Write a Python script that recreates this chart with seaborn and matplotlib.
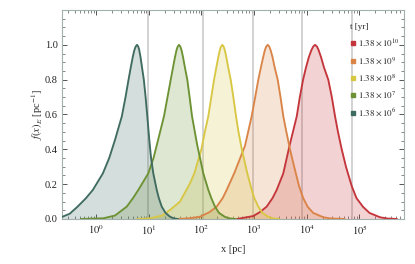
import numpy as np
import pandas as pd
import matplotlib
matplotlib.use("Agg")
import matplotlib.pyplot as plt
from matplotlib.lines import Line2D
from matplotlib.ticker import FixedLocator, LogLocator, MultipleLocator, NullFormatter
import seaborn as sns

# ---- data (x given as log10 of x [pc]) ----
labels = [r"$1.38\times10^{10}$", r"$1.38\times10^{9}$", r"$1.38\times10^{8}$",
          r"$1.38\times10^{7}$", r"$1.38\times10^{6}$"]
colors = ["#C4363B", "#DA8448", "#D8C744", "#6C9234", "#3F6B60"]

logx_red = [2.676, 2.985, 3.112, 3.239, 3.350, 3.429, 3.554, 3.672, 3.810, 3.868,
            3.930, 3.985, 4.040, 4.088, 4.122, 4.156,
            4.194, 4.224, 4.270, 4.327, 4.408, 4.475, 4.536, 4.592, 4.663, 4.744,
            4.852, 4.943, 5.067, 5.190, 5.389, 5.522, 5.712]
f_red = [0, 0.017, 0.04, 0.071, 0.12, 0.167, 0.262, 0.42, 0.59, 0.70,
         0.80, 0.87, 0.93, 0.97, 0.99, 1.0,
         0.99, 0.97, 0.93, 0.87, 0.80, 0.70, 0.59, 0.50, 0.40, 0.30,
         0.19, 0.12, 0.07, 0.035, 0.01, 0.003, 0]

logx_orange = [1.550, 1.778, 1.973, 2.157, 2.290, 2.404, 2.480, 2.622, 2.827, 2.954,
               3.021, 3.080, 3.129, 3.173, 3.205, 3.230, 3.258,
               3.288, 3.313, 3.349, 3.391, 3.448, 3.501, 3.554, 3.613, 3.681, 3.761,
               3.852, 3.932, 4.017, 4.121, 4.313, 4.453, 4.719]
f_orange = [0, 0.004, 0.013, 0.04, 0.071, 0.12, 0.167, 0.262, 0.42, 0.59,
            0.70, 0.80, 0.87, 0.93, 0.97, 0.99, 1.0,
            0.99, 0.97, 0.93, 0.87, 0.80, 0.70, 0.59, 0.50, 0.40, 0.30,
            0.19, 0.12, 0.07, 0.035, 0.01, 0.003, 0]

logx_yellow = [0.784, 1.025, 1.258, 1.405, 1.594, 1.784, 1.866, 1.999, 2.065, 2.131,
               2.188, 2.240, 2.283, 2.321, 2.350, 2.372, 2.397,
               2.422, 2.444, 2.473, 2.509, 2.556, 2.606, 2.657, 2.704, 2.767, 2.871,
               2.955, 3.004, 3.080, 3.156, 3.270, 3.365, 3.479]
f_yellow = [0, 0.004, 0.02, 0.052, 0.10, 0.205, 0.262, 0.40, 0.50, 0.59,
            0.70, 0.80, 0.87, 0.93, 0.97, 0.99, 1.0,
            0.99, 0.97, 0.93, 0.87, 0.80, 0.70, 0.59, 0.50, 0.40, 0.262,
            0.167, 0.12, 0.071, 0.035, 0.012, 0.003, 0]

logx_green = [-0.285, 0.139, 0.361, 0.583, 0.702, 0.803, 0.992, 1.091, 1.158, 1.290,
              1.357, 1.418, 1.461, 1.499, 1.528, 1.550, 1.575,
              1.600, 1.622, 1.651, 1.687, 1.732, 1.776, 1.822, 1.917, 2.036, 2.131,
              2.188, 2.258, 2.334, 2.448, 2.543, 2.657]
f_green = [0, 0.004, 0.02, 0.071, 0.12, 0.167, 0.262, 0.35, 0.43, 0.59,
           0.70, 0.80, 0.87, 0.93, 0.97, 0.99, 1.0,
           0.99, 0.97, 0.93, 0.87, 0.80, 0.70, 0.59, 0.43, 0.262, 0.167,
           0.12, 0.071, 0.035, 0.012, 0.003, 0]

logx_teal = [-0.645, -0.500, -0.350, -0.190, -0.060, 0.130, 0.250, 0.360, 0.490, 0.560,
             0.617, 0.659, 0.697, 0.728, 0.752, 0.778,
             0.801, 0.820, 0.844, 0.873, 0.907, 0.941, 0.973, 1.011, 1.044, 1.087,
             1.152, 1.192, 1.247, 1.319, 1.404, 1.480, 1.556]
f_teal = [0.012, 0.03, 0.071, 0.12, 0.167, 0.262, 0.35, 0.454, 0.59, 0.70,
          0.80, 0.87, 0.93, 0.97, 0.99, 1.0,
          0.99, 0.97, 0.93, 0.87, 0.80, 0.70, 0.59, 0.454, 0.35, 0.262,
          0.167, 0.12, 0.071, 0.035, 0.013, 0.003, 0]

vlines_x = [9.8, 106, 940, 8000, 71000]
xtick_vals = [1, 10, 100, 1000, 10000, 100000]
xtick_labels = [r"$10^{0}$", r"$10^{1}$", r"$10^{2}$", r"$10^{3}$", r"$10^{4}$", r"$10^{5}$"]
ytick_vals = [0, 0.2, 0.4, 0.6, 0.8, 1.0]
ytick_labels = ["0.0", "0.2", "0.4", "0.6", "0.8", "1.0"]

series = [(labels[0], logx_red, f_red), (labels[1], logx_orange, f_orange),
          (labels[2], logx_yellow, f_yellow), (labels[3], logx_green, f_green),
          (labels[4], logx_teal, f_teal)]

df = pd.concat([pd.DataFrame({"x": 10.0 ** np.asarray(lx), "f": fy, "t": lab})
                for lab, lx, fy in series], ignore_index=True)

# ---- style ----
sns.set_theme(style="ticks")
plt.rcParams["font.family"] = ["Liberation Serif", "DejaVu Serif"]
plt.rcParams["mathtext.fontset"] = "stix"
frame_col = "#a3b0ac"
plt.rcParams.update({
    "axes.edgecolor": frame_col, "axes.linewidth": 0.8,
    "xtick.color": "#555555", "ytick.color": "#555555",
    "xtick.labelcolor": "#222222", "ytick.labelcolor": "#222222",
})

fig = plt.figure(figsize=(4.15, 2.64), dpi=100)
ax = fig.add_axes([62/415, 1-219/264, (404-62)/415, (219-10)/264])

for xv in vlines_x:
    ax.axvline(xv, color="#cbcbcb", lw=1.2, zorder=1)

for lab, c in zip(labels, colors):
    d = df[df["t"] == lab]
    ax.fill_between(d["x"], 0, d["f"], color=c, alpha=0.22, lw=0, zorder=2)

sns.lineplot(data=df, x="x", y="f", hue="t", palette=dict(zip(labels, colors)),
             sort=False, units="t", estimator=None, lw=1.35, legend=False, ax=ax,
             zorder=3)
for ln in ax.lines:
    ln.set_solid_joinstyle("round")

ax.set_xscale("log")
ax.set_xlim(0.226, 7.0e5)
ax.set_ylim(0, 1.2)
ax.set_yticks(ytick_vals)
ax.set_yticklabels(ytick_labels)
ax.yaxis.set_minor_locator(MultipleLocator(0.05))
ax.xaxis.set_major_locator(FixedLocator(xtick_vals))
ax.set_xticklabels(xtick_labels)
ax.xaxis.set_minor_locator(LogLocator(base=10, subs=np.arange(2, 10), numticks=100))
ax.xaxis.set_minor_formatter(NullFormatter())
ax.tick_params(which="both", direction="in", top=True, right=True, labelsize=7.5, pad=3)
ax.tick_params(which="major", length=3.5, width=0.7)
ax.tick_params(which="minor", length=2, width=0.5)

ax.set_xlabel("x [pc]", fontsize=7.5, labelpad=6)
ax.set_ylabel(r"$f(x)_E$ [pc$^{-1}$]", fontsize=7.5, labelpad=0)

handles = [Line2D([], [], marker="s", ls="none", color=c, markersize=3.5) for c in colors]
leg = ax.legend(handles, labels, title="t [yr]", loc="upper right", frameon=False,
                fontsize=6.5, title_fontsize=6.5, handlelength=0.6, handletextpad=0.3,
                labelspacing=0.7, borderaxespad=0.3, bbox_to_anchor=(1.005, 0.968))
leg._legend_box.align = "left"

fig.savefig("out.png", dpi=100)
